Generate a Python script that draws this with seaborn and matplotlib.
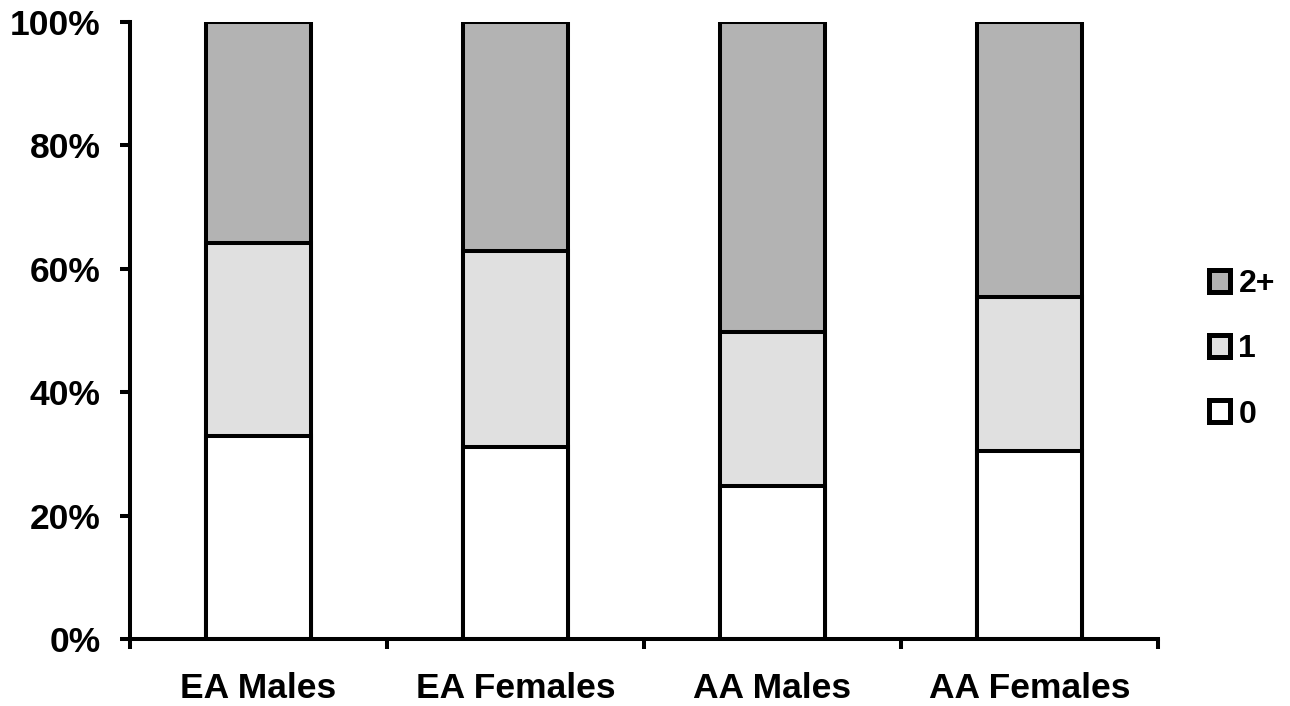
import matplotlib
matplotlib.use("Agg")
import matplotlib.pyplot as plt
import seaborn as sns
import numpy as np
from matplotlib.patches import Patch

categories = ["EA Males", "EA Females", "AA Males", "AA Females"]
pct_0 = [32.9, 31.1, 24.8, 30.5]
pct_1 = [31.3, 31.8, 25.0, 24.9]
pct_2plus = [35.8, 37.1, 50.2, 44.6]
series_labels = ["0", "1", "2+"]
colors = {"0": "#ffffff", "1": "#e0e0e0", "2+": "#b3b3b3"}

sns.set_style("white")
plt.rcParams["font.family"] = ["Liberation Sans", "DejaVu Sans"]
plt.rcParams["font.weight"] = "bold"
plt.rcParams["text.color"] = "black"
plt.rcParams["xtick.color"] = "black"
plt.rcParams["ytick.color"] = "black"

fig = plt.figure(figsize=(12.9, 7.06), dpi=100)
ax = fig.add_axes([130/1290, 67/706, 1028/1290, 617/706])

c0 = np.array(pct_0)
c1 = c0 + np.array(pct_1)
c2 = c1 + np.array(pct_2plus)

lw = 2.9
for heights, key in [(c2, "2+"), (c1, "1"), (c0, "0")]:
    sns.barplot(x=categories, y=heights, color=colors[key], saturation=1,
                width=0.41, edgecolor="black", linewidth=lw, ax=ax)

ax.set_xlim(-0.5, 3.5)
ax.set_ylim(0, 100)
ax.set_yticks([0, 20, 40, 60, 80, 100])
ax.set_yticklabels([f"{v}%" for v in [0, 20, 40, 60, 80, 100]], fontsize=25.5, fontweight="bold")
ax.set_xticks(range(4))
ax.set_xticklabels(categories, fontsize=25.5, fontweight="bold")
ax.set_xticks([-0.5, 0.5, 1.5, 2.5, 3.5], minor=True)
ax.tick_params(axis="x", which="major", length=0, pad=24)
ax.tick_params(axis="x", which="minor", length=7, width=2.9, direction="out", bottom=True)
ax.tick_params(axis="y", length=7, width=2.9, direction="out", left=True, pad=14)
ax.set_xlabel("")
ax.set_ylabel("")

for s in ["top", "right"]:
    ax.spines[s].set_visible(False)
for s in ["left", "bottom"]:
    ax.spines[s].set_linewidth(2.9)
    ax.spines[s].set_color("black")

handles = [Patch(facecolor=colors[k], edgecolor="black", linewidth=3.6, label=k)
           for k in ["2+", "1", "0"]]
leg = fig.legend(handles=handles, loc="center left", bbox_to_anchor=(1180/1290, 0.505),
                 frameon=False, handlelength=0.68, handleheight=0.68,
                 handletextpad=0.25, labelspacing=1.1, prop={"weight": "bold", "size": 23})

fig.savefig("out.png", dpi=100)
